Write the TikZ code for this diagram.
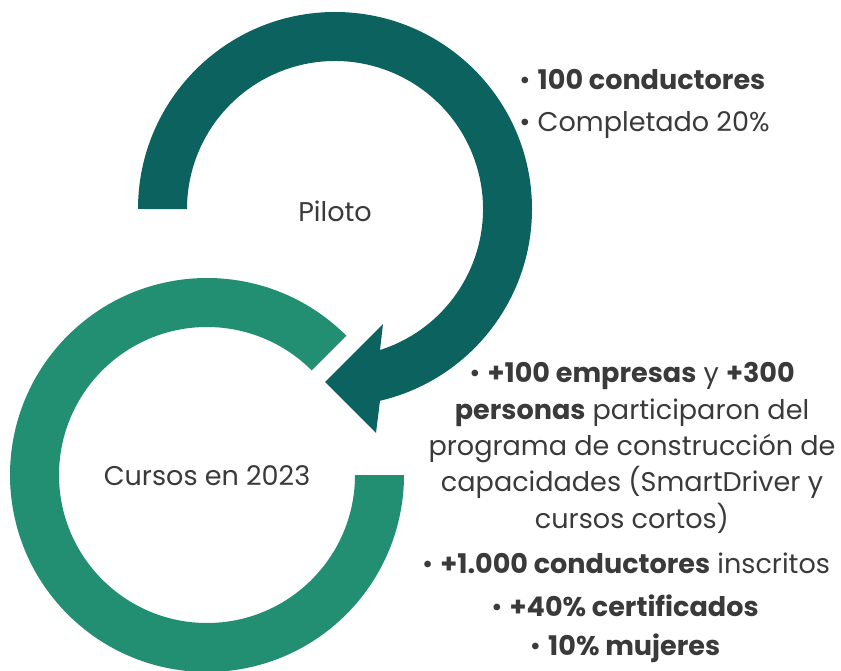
\documentclass[tikz,border=0pt]{standalone}
\usepackage{fontspec}
\setmainfont{Poppins}[BoldFont=* Bold]
\definecolor{darkteal}{HTML}{0B625E}
\definecolor{ringgreen}{HTML}{228F72}
\definecolor{txtgray}{HTML}{3A3A3A}
\begin{document}
\begin{tikzpicture}[x=0.02cm, y=0.02cm,
	lbl/.style={text=txtgray, font=\fontsize{15.4}{20.7}\selectfont, inner sep=0pt}]
	\useasboundingbox (0,0) rectangle (841,670);
	% top ring, ends in the arrow head
	\fill[darkteal] (138,461) arc[start angle=180, end angle=-76.8, radius=197] -- (376,237) -- (325,288) -- (383,346) -- (380,320) arc[start angle=-72.3, end angle=180, radius=148] -- cycle;
	% bottom ring
	\fill[ringgreen] (207,195) ++(45:197) arc[start angle=45, end angle=360, radius=197] -- ++(-49,0) arc[start angle=360, end angle=45, radius=148] -- cycle;
	\node[lbl] (piloto) at (335,459) {Piloto};
	\node[lbl] (cursos) at (207,194) {Cursos en 2023};
	\node[lbl, anchor=west] (cond) at (519,590) {• \textbf{100 conductores}};
	\node[lbl, anchor=west] (compl) at (519,545) {• Completado 20\%};
	\node[lbl, align=center] (empresas) at (632,222) {• \textbf{+100 empresas} y \textbf{+300}\\ \textbf{personas} participaron del\\ programa de construcción de\\ capacidades (SmartDriver y\\ cursos cortos)};
	\node[lbl] (inscritos) at (626,107) {• \textbf{+1.000 conductores} inscritos};
	\node[lbl] (cert) at (625,64) {• \textbf{+40\% certificados}};
	\node[lbl] (mujeres) at (625,22) {• \textbf{10\% mujeres}};
\end{tikzpicture}
\end{document}
